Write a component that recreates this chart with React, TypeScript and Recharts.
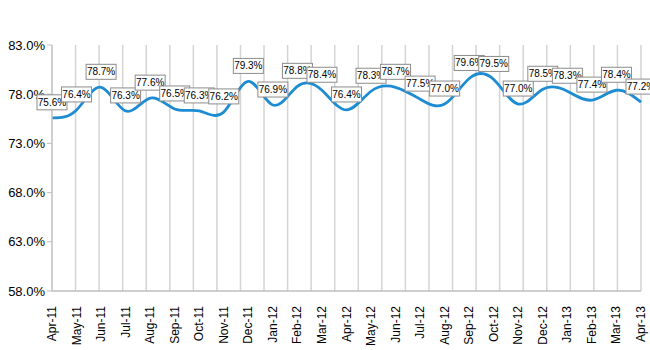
import { CartesianGrid, LabelList, Line, LineChart, XAxis, YAxis } from "recharts";

const months = [
  "Apr-11", "May-11", "Jun-11", "Jul-11", "Aug-11", "Sep-11", "Oct-11", "Nov-11", "Dec-11",
  "Jan-12", "Feb-12", "Mar-12", "Apr-12", "May-12", "Jun-12", "Jul-12", "Aug-12", "Sep-12",
  "Oct-12", "Nov-12", "Dec-12", "Jan-13", "Feb-13", "Mar-13", "Apr-13",
];

const rates = [
  75.6, 76.4, 78.7, 76.3, 77.6, 76.5, 76.3, 76.2, 79.3,
  76.9, 78.8, 78.4, 76.4, 78.3, 78.7, 77.5, 77.0, 79.6,
  79.5, 77.0, 78.5, 78.3, 77.4, 78.4, 77.2,
];

const yTicks = [58, 63, 68, 73, 78, 83];

const data = months.map((m, i) => ({ month: m, rate: rates[i] }));

const FONT = "'Liberation Sans', Arial, sans-serif";

function MonthTick({ x, y, payload }: any) {
  return (
    <text
      transform={`translate(${x},${y + 7}) rotate(-90)`}
      textAnchor="end"
      dominantBaseline="central"
      fontFamily={FONT}
      fontSize={12}
      fill="#000"
    >
      {payload.value}
    </text>
  );
}

function BoxLabel({ x, y, value }: any) {
  const w = 30;
  const h = 15;
  return (
    <g>
      <rect x={x - w / 2} y={y - 8 - h} width={w} height={h} fill="#fff" stroke="#8c8c8c" strokeWidth={1} />
      <text
        x={x}
        y={y - 8 - h / 2}
        textAnchor="middle"
        dominantBaseline="central"
        fontFamily={FONT}
        fontSize={10}
        fill="#000"
      >
        {`${Number(value).toFixed(1)}%`}
      </text>
    </g>
  );
}

export default function App() {
  return (
    <div style={{ position: "absolute", left: 0, top: 0, background: "#fff" }}>
      <LineChart width={650} height={350} data={data} margin={{ top: 45, right: 9, left: 0, bottom: 0 }}>
        <CartesianGrid
          horizontal={false}
          stroke="#d4d4d4"
          strokeWidth={1.5}
          verticalCoordinatesGenerator={({ offset }: any) =>
            months.map((_, i) => offset.left + ((i + 1) * offset.width) / months.length)
          }
        />
        <XAxis
          dataKey="month"
          interval={0}
          height={59}
          tick={<MonthTick />}
          tickLine={false}
          axisLine={{ stroke: "#bfbfbf", strokeWidth: 1.5 }}
        />
        <YAxis
          width={52}
          domain={[58, 83]}
          ticks={yTicks}
          tickFormatter={(v: number) => `${v.toFixed(1)}%`}
          tick={{ fill: "#000", fontFamily: FONT, fontSize: 13 }}
          tickSize={5}
          tickLine={{ stroke: "#bfbfbf" }}
          axisLine={{ stroke: "#bfbfbf", strokeWidth: 1.5 }}
        />
        <Line
          type="natural"
          dataKey="rate"
          stroke="#1d8cd3"
          strokeWidth={2.8}
          dot={false}
          isAnimationActive={false}
        >
          <LabelList dataKey="rate" content={<BoxLabel />} />
        </Line>
      </LineChart>
    </div>
  );
}
